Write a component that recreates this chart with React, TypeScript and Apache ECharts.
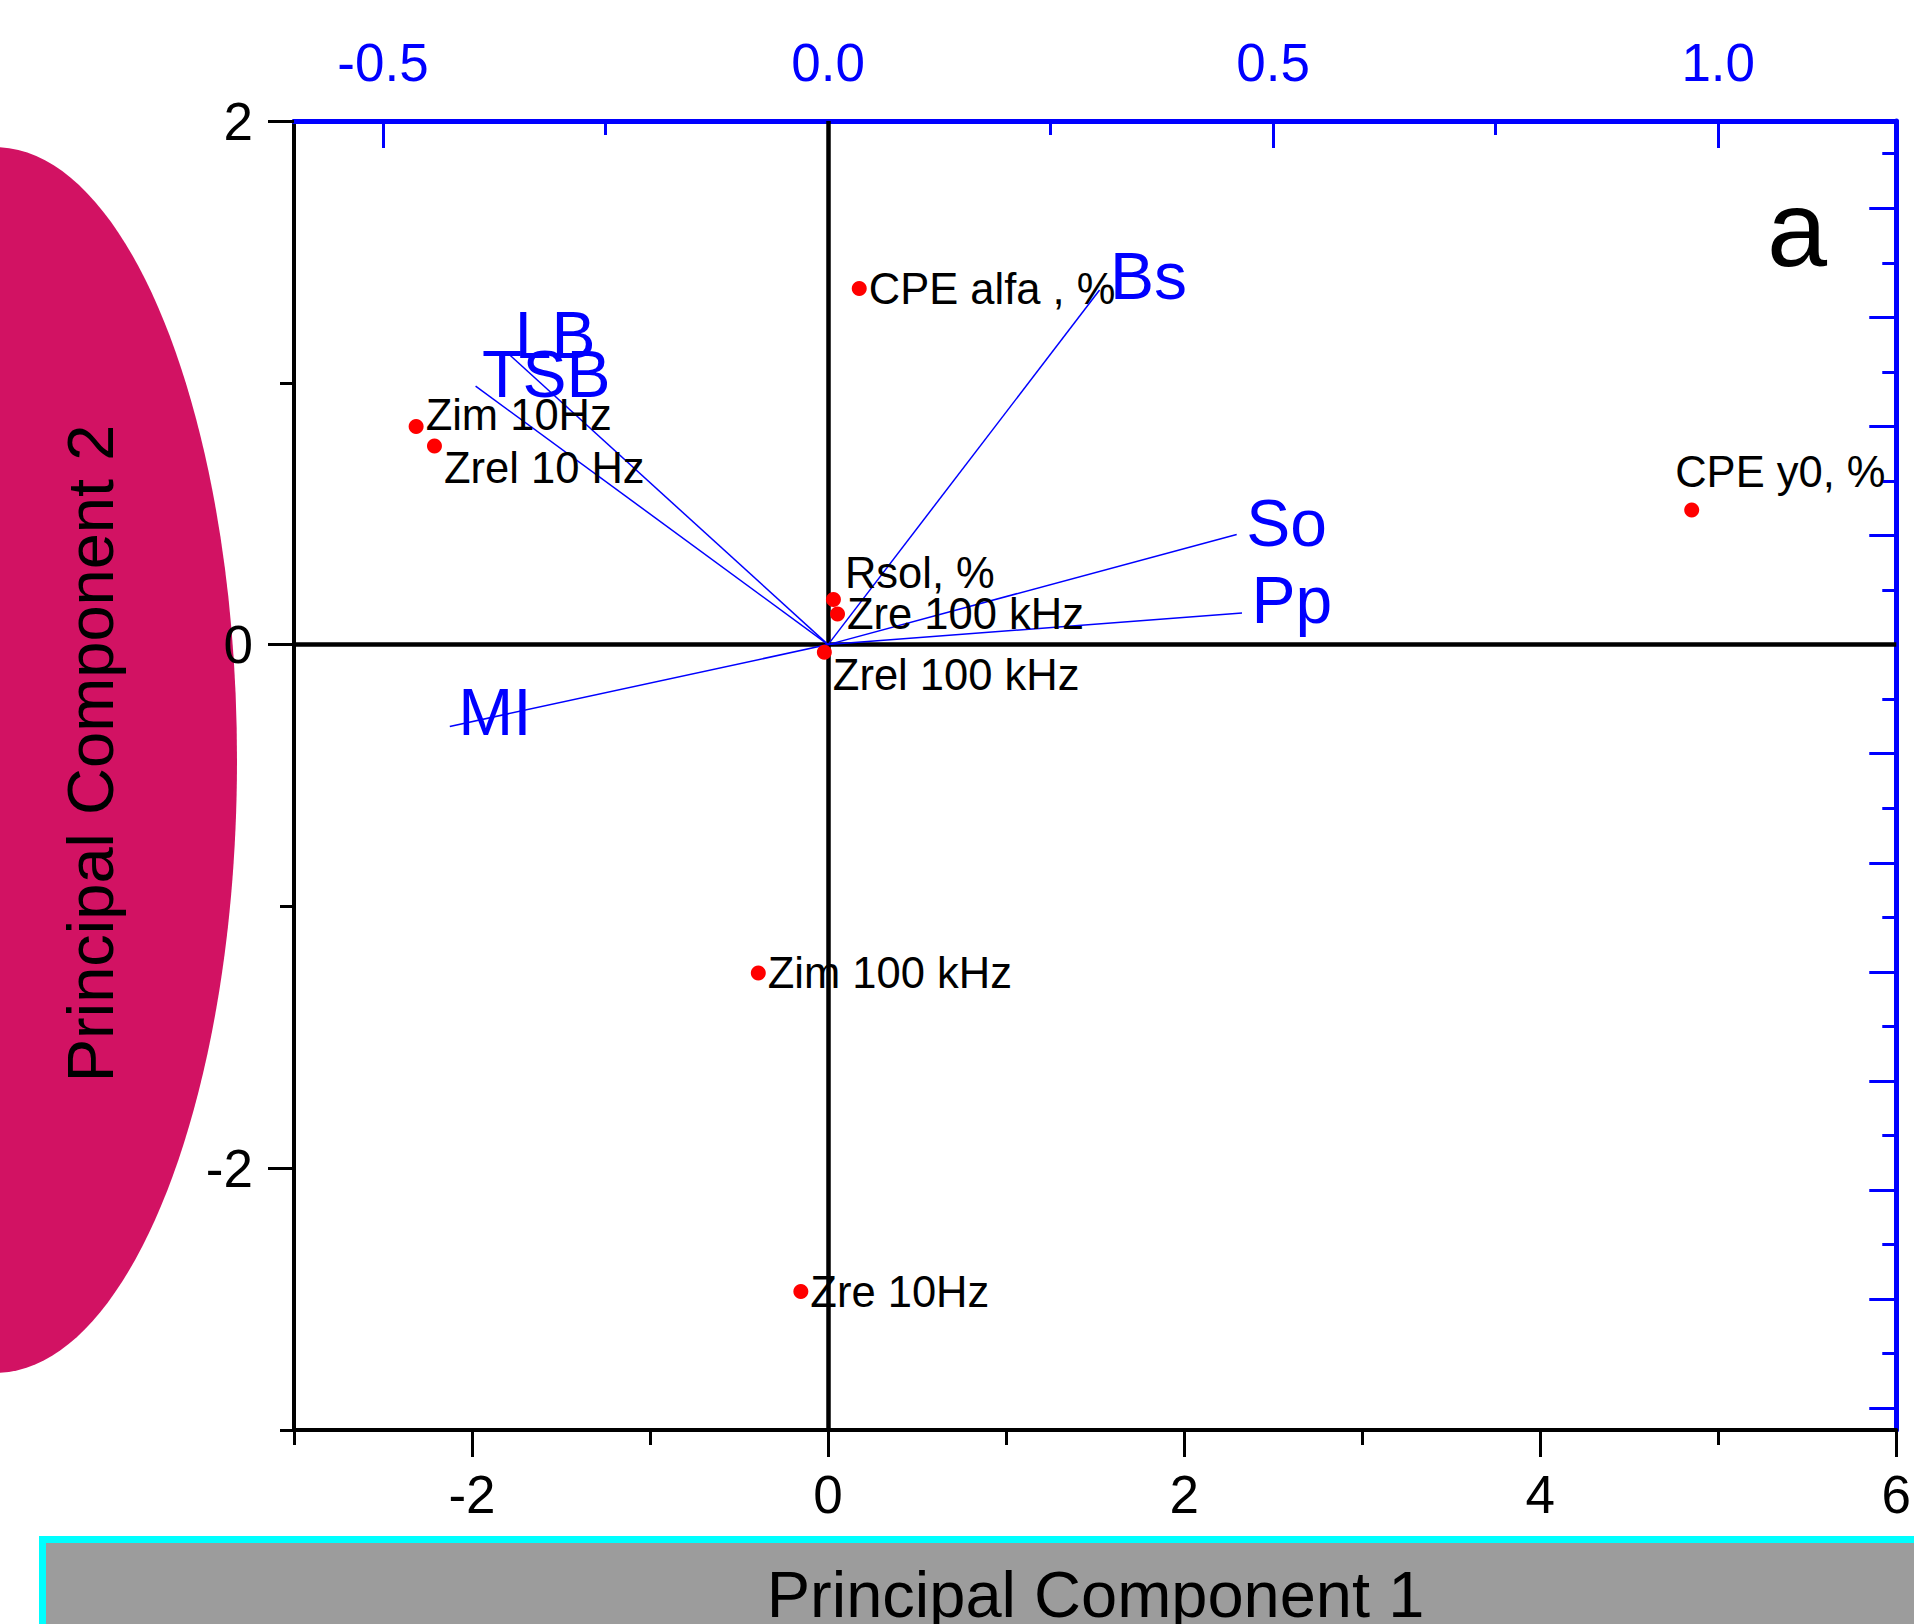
import React, { useEffect, useRef } from 'react';
import * as echarts from 'echarts';

const FONT = '"Liberation Sans", Arial, Helvetica, sans-serif';

// Scores (PC1, PC2) — bottom / left axes
const scoreNames = ['CPE alfa , %', 'Zim 10Hz', 'Zrel 10 Hz', 'CPE y0, %', 'Rsol, %', 'Zre 100 kHz', 'Zrel 100 kHz', 'Zim 100 kHz', 'Zre 10Hz'];
const scorePC1 = [0.175, -2.314, -2.211, 4.851, 0.03, 0.053, -0.021, -0.392, -0.153];
const scorePC2 = [1.36, 0.833, 0.759, 0.514, 0.172, 0.117, -0.029, -1.254, -2.471];
// label offsets [dx, dy] in px (placement only)
const scoreLabelOffsets = [[0, 0], [0, -12], [0, 22], [-26, -38], [2, -27], [0, 0], [-1, 23], [0, 0], [0, 0]];

// Loadings — top / right axes
const loadingNames = ['Bs', 'LB', 'TSB', 'So', 'Pp', 'MI'];
const loadingPC1 = [0.305, -0.357, -0.396, 0.459, 0.465, -0.425];
const loadingPC2 = [0.325, 0.265, 0.237, 0.101, 0.029, -0.075];
const loadingLabelOffsets = [[3, -14], [-3, -21], [-1, -12], [2, -11], [2, -13], [1, -14]];

// Axis ticks / labels
const pc1Major = [-2, 0, 2, 4, 6];
const pc1Minor = [-3, -1, 1, 3, 5];
const pc2Major = [-2, 0, 2];
const pc2Minor = [-3, -1, 1];
const topMajor = [-0.5, 0, 0.5, 1.0];
const topMinor = [-0.25, 0.25, 0.75];
const rightMajor = [-0.7, -0.6, -0.5, -0.4, -0.3, -0.2, -0.1, 0, 0.1, 0.2, 0.3, 0.4];
const rightMinor = [-0.65, -0.55, -0.45, -0.35, -0.25, -0.15, -0.05, 0.05, 0.15, 0.25, 0.35, 0.45];

const X_MIN = -3, X_MAX = 6, Y_MIN = -3, Y_MAX = 2;
const T_MIN = -0.6, T_MAX = 1.2, R_MIN = -0.72, R_MAX = 0.48;

const BLUE = '#0000FF';

function baseAxis(extra: any) {
  return {
    type: 'value',
    splitLine: { show: false },
    ...extra,
  };
}

export default function App() {
  const ref = useRef<HTMLDivElement>(null);
  useEffect(() => {
    if (!ref.current) return;
    const chart = echarts.init(ref.current, undefined, { renderer: 'svg' });

    const xAxis = [
      baseAxis({
        position: 'bottom', min: X_MIN, max: X_MAX,
        axisLine: { onZero: false, lineStyle: { color: '#000', width: 4 } },
        axisTick: { inside: false, length: 27, customValues: pc1Major, lineStyle: { color: '#000', width: 3 } },
        axisLabel: { customValues: pc1Major, fontSize: 53, fontFamily: FONT, color: '#000', margin: 38 },
      }),
      baseAxis({
        position: 'top', min: T_MIN, max: T_MAX,
        axisLine: { onZero: false, lineStyle: { color: BLUE, width: 5 } },
        axisTick: { inside: true, length: 27, customValues: topMajor, lineStyle: { color: BLUE, width: 3 } },
        axisLabel: { customValues: topMajor, fontSize: 53, fontFamily: FONT, color: BLUE, margin: 32, formatter: (v: number) => v.toFixed(1) },
      }),
      baseAxis({
        position: 'bottom', min: X_MIN, max: X_MAX,
        axisLine: { show: false, onZero: false },
        axisTick: { inside: false, length: 15, customValues: pc1Minor, lineStyle: { color: '#000', width: 3 } },
        axisLabel: { show: false },
      }),
      baseAxis({
        position: 'top', min: T_MIN, max: T_MAX,
        axisLine: { show: false, onZero: false },
        axisTick: { inside: true, length: 14, customValues: topMinor, lineStyle: { color: BLUE, width: 3 } },
        axisLabel: { show: false },
      }),
    ];

    const yAxis = [
      baseAxis({
        position: 'left', min: Y_MIN, max: Y_MAX,
        axisLine: { onZero: false, lineStyle: { color: '#000', width: 4 } },
        axisTick: { inside: false, length: 26, customValues: pc2Major, lineStyle: { color: '#000', width: 3 } },
        axisLabel: { customValues: pc2Major, fontSize: 53, fontFamily: FONT, color: '#000', margin: 41 },
      }),
      baseAxis({
        position: 'right', min: R_MIN, max: R_MAX,
        axisLine: { onZero: false, lineStyle: { color: BLUE, width: 5 } },
        axisTick: { inside: true, length: 27, customValues: rightMajor, lineStyle: { color: BLUE, width: 3 } },
        axisLabel: { show: false },
      }),
      baseAxis({
        position: 'left', min: Y_MIN, max: Y_MAX,
        axisLine: { show: false, onZero: false },
        axisTick: { inside: false, length: 14, customValues: pc2Minor, lineStyle: { color: '#000', width: 3 } },
        axisLabel: { show: false },
      }),
      baseAxis({
        position: 'right', min: R_MIN, max: R_MAX,
        axisLine: { show: false, onZero: false },
        axisTick: { inside: true, length: 14, customValues: rightMinor, lineStyle: { color: BLUE, width: 3 } },
        axisLabel: { show: false },
      }),
    ];

    const scoreData = scoreNames.map((n, i) => ({
      name: n,
      value: [scorePC1[i], scorePC2[i]],
      label: { offset: scoreLabelOffsets[i] },
    }));

    const vectorSeries = loadingNames.map((n, i) => ({
      type: 'line',
      name: n,
      xAxisIndex: 1,
      yAxisIndex: 1,
      symbol: 'none',
      silent: true,
      lineStyle: { color: BLUE, width: 1.5, opacity: 1 },
      data: [[0, 0], [loadingPC1[i], loadingPC2[i]]],
      z: 3,
    }));

    const loadingLabelData = loadingNames.map((n, i) => ({
      name: n,
      value: [loadingPC1[i], loadingPC2[i]],
      label: { offset: loadingLabelOffsets[i] },
    }));

    const option: any = {
      animation: false,
      backgroundColor: '#fff',
      grid: { left: 294, top: 121, width: 1606, height: 1309, containLabel: false },
      xAxis,
      yAxis,
      graphic: [
        { type: 'ellipse', z: -10, shape: { cx: -5, cy: 760, rx: 242, ry: 613 }, style: { fill: '#D21263' } },
        {
          type: 'text', z: -9, x: 90, y: 753.5, rotation: Math.PI / 2,
          style: { text: 'Principal Component 2', font: `65px ${FONT}`, fill: '#000', align: 'center', verticalAlign: 'middle' },
        },
        { type: 'rect', z: -10, shape: { x: 39, y: 1536, width: 1920, height: 120 }, style: { fill: '#00FFFF' } },
        { type: 'rect', z: -9, shape: { x: 46, y: 1543, width: 1920, height: 120 }, style: { fill: '#9C9C9C' } },
        {
          type: 'text', z: -8, x: 1095.5, y: 1594,
          style: { text: 'Principal Component 1', font: `65px ${FONT}`, fill: '#000', align: 'center', verticalAlign: 'middle' },
        },
        {
          type: 'text', z: 10, x: 1767, y: 228,
          style: { text: 'a', font: `108px ${FONT}`, fill: '#000', align: 'left', verticalAlign: 'middle' },
        },
      ],
      series: [
        {
          type: 'scatter',
          name: 'scores',
          xAxisIndex: 0,
          yAxisIndex: 0,
          symbol: 'circle',
          symbolSize: 15,
          itemStyle: { color: '#FF0000', opacity: 1 },
          label: {
            show: true,
            position: 'right',
            distance: 2,
            formatter: (p: any) => p.name,
            fontSize: 43.5,
            fontFamily: FONT,
            color: '#000',
            opacity: 1,
          },
          data: scoreData,
          z: 4,
          markLine: {
            silent: true,
            symbol: ['none', 'none'],
            label: { show: false },
            lineStyle: { color: '#000', width: 4.5, type: 'solid', opacity: 1 },
            data: [{ xAxis: 0 }, { yAxis: 0 }],
            z: 2,
          },
        },
        ...vectorSeries,
        {
          type: 'scatter',
          name: 'loadings',
          xAxisIndex: 1,
          yAxisIndex: 1,
          symbolSize: 1,
          silent: true,
          itemStyle: { color: 'rgba(0,0,0,0)', opacity: 1 },
          label: {
            show: true,
            position: 'right',
            distance: 7,
            formatter: (p: any) => p.name,
            fontSize: 66,
            fontFamily: FONT,
            color: BLUE,
            opacity: 1,
          },
          data: loadingLabelData,
          z: 5,
        },
      ],
    };

    chart.setOption(option);
    return () => chart.dispose();
  }, []);

  return (
    <div
      ref={ref}
      style={{ position: 'absolute', left: 0, top: 0, width: 1914, height: 1624, background: '#fff' }}
    />
  );
}
